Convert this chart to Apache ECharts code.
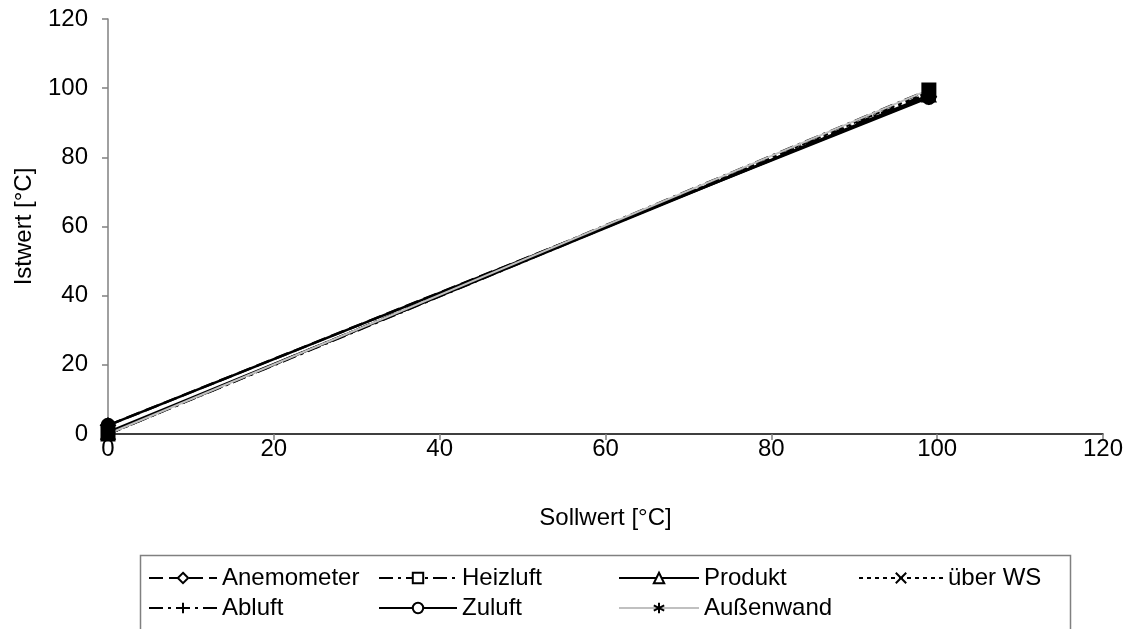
<!DOCTYPE html>
<html>
<head>
<meta charset="utf-8">
<script src="https://cdn.jsdelivr.net/npm/echarts@6/dist/echarts.min.js"></script>
<style>
  html, body { margin: 0; padding: 0; background: #fff; }
  #chart { width: 1129px; height: 629px; }
</style>
</head>
<body>
<div id="chart"></div>
<script>
// Set points (Sollwert) and measured values (Istwert) per sensor
var sollwerte = [0, 99];
var anemometer = [2.5, 97.5];
var heizluft = [0, 99.5];
var produkt = [0.5, 98];
var ueberWS = [0, 99];
var abluft = [0, 98.5];
var zuluft = [2.5, 97.3];
var aussenwand = [0, 99.5];

var xTicks = [0, 20, 40, 60, 80, 100, 120];
var yTicks = [0, 20, 40, 60, 80, 100, 120];

var FONT = '"Liberation Sans", Arial, sans-serif';
var FS = 24;

function pairs(ys) {
  return sollwerte.map(function (x, i) { return [x, ys[i]]; });
}

var SYM_X = 'path://M0,0L10,10M10,0L0,10';
var SYM_PLUS = 'path://M5,0L5,10M0,5L10,5';
var SYM_STAR = 'path://M5,0L5,10M0.7,2.5L9.3,7.5M0.7,7.5L9.3,2.5';

function mk(name, ys, symbol, size, lineType, color, width) {
  return {
    name: name,
    type: 'line',
    data: pairs(ys),
    symbol: symbol,
    symbolSize: size,
    showAllSymbol: true,
    lineStyle: { color: color, width: width, type: lineType },
    itemStyle: { color: '#000', borderColor: '#000', borderWidth: 2 },
    emphasis: { disabled: true },
    animation: false,
    z: 3
  };
}

var series = [
  mk('Anemometer', anemometer, 'diamond', 14, [14, 6], '#000', 2.5),
  mk('Heizluft', heizluft, 'rect', 13, [14, 5, 3, 5], '#000', 2.5),
  mk('Produkt', produkt, 'triangle', 13, 'solid', '#000', 2.5),
  mk('über WS', ueberWS, SYM_X, 12, [4, 4], '#000', 2.5),
  mk('Abluft', abluft, SYM_PLUS, 14, [14, 5, 3, 5], '#000', 2.5),
  mk('Zuluft', zuluft, 'circle', 13, 'solid', '#000', 2.5),
  mk('Außenwand', aussenwand, SYM_STAR, 13, 'solid', '#c0c0c0', 2)
];

function legendCol(names, left, w) {
  return {
    data: names,
    orient: 'vertical',
    left: left,
    top: 560,
    itemWidth: w,
    itemHeight: 13,
    itemGap: 4,
    selectedMode: false,
    itemStyle: { color: '#fff', borderColor: '#000', borderWidth: 2 },
    textStyle: { fontFamily: FONT, fontSize: FS, color: '#000', lineHeight: 26 }
  };
}

var chart = echarts.init(document.getElementById('chart'), null, { renderer: 'canvas' });
chart.setOption({
  backgroundColor: '#fff',
  animation: false,
  grid: { left: 108, right: 26, top: 19, bottom: 195 },
  xAxis: {
    type: 'value',
    min: xTicks[0],
    max: xTicks[xTicks.length - 1],
    interval: 20,
    name: 'Sollwert [°C]',
    nameLocation: 'middle',
    nameGap: 72,
    nameTextStyle: { fontFamily: FONT, fontSize: FS, color: '#000' },
    axisLine: { lineStyle: { color: '#000', width: 1.5 } },
    axisTick: { show: true, length: 6, lineStyle: { color: '#808080', width: 1.5 } },
    axisLabel: { fontFamily: FONT, fontSize: FS, color: '#000', margin: 3 },
    splitLine: { show: false }
  },
  yAxis: {
    type: 'value',
    min: yTicks[0],
    max: yTicks[yTicks.length - 1],
    interval: 20,
    name: 'Istwert [°C]',
    nameLocation: 'middle',
    nameGap: 72,
    nameTextStyle: { fontFamily: FONT, fontSize: FS, color: '#000' },
    axisLine: { show: true, lineStyle: { color: '#808080', width: 1.5 } },
    axisTick: { show: true, length: 6, lineStyle: { color: '#808080', width: 1.5 } },
    axisLabel: { fontFamily: FONT, fontSize: FS, color: '#000', margin: 20 },
    splitLine: { show: false }
  },
  legend: [
    legendCol(['Anemometer', 'Abluft'], 143, 68),
    legendCol(['Heizluft', 'Zuluft'], 373, 78),
    legendCol(['Produkt', 'Außenwand'], 613, 80),
    legendCol(['über WS'], 853, 84)
  ],
  graphic: [{
    type: 'rect',
    shape: { x: 140.5, y: 555.5, width: 930, height: 100 },
    style: { fill: 'none', stroke: '#808080', lineWidth: 1.5 },
    silent: true,
    z: -1
  }],
  series: series
});
</script>
</body>
</html>
